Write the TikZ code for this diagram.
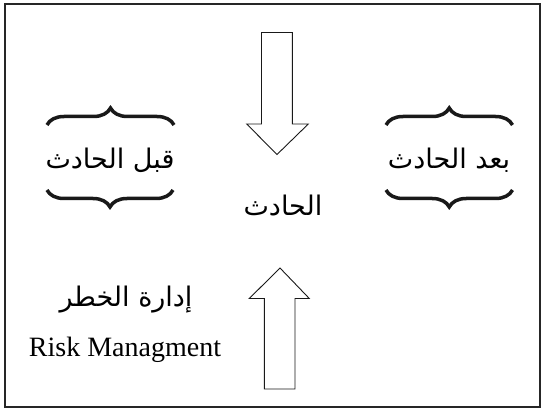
\documentclass[tikz,border=0pt]{standalone}
\usepackage{fontspec}
\setmainfont{Liberation Serif}
\newfontfamily\arabicfont[Script=Arabic]{DejaVu Sans}
\TeXXeTstate=1
\usetikzlibrary{decorations.pathreplacing}
\tikzset{
  frame/.style={draw=black!85, line width=2pt},
  blockarrow/.style={draw=black!90, line width=0.9pt, fill=white, line join=miter},
  bigbrace/.style={decorate, decoration={brace, amplitude=17pt, aspect=0.5}, line width=3.5pt, draw=black!90},
  artext/.style={inner sep=0pt, font=\fontsize{27}{32}\selectfont\arabicfont},
  entext/.style={inner sep=0pt, font=\fontsize{28}{33}\selectfont},
}
\begin{document}
\begin{tikzpicture}[x=1pt,y=1pt]
\useasboundingbox (0,0) rectangle (543,410);
\draw[frame] (5,3) rectangle (540,406);
% down arrow
\draw[blockarrow] (261.5,377.5) -- (292.3,377.5) -- (292.3,286) -- (308.3,286) -- (277,255.5) -- (246.7,286) -- (261.5,286) -- cycle;
% up arrow
\draw[blockarrow] (264.3,21) -- (295,21) -- (295,111.5) -- (309.3,111.5) -- (280,142) -- (249.3,111.5) -- (264.3,111.5) -- cycle;
% braces
\coordinate (tl1) at (47,285); \coordinate (tl2) at (174,285);
\coordinate (tr1) at (386,285); \coordinate (tr2) at (512.5,285);
\coordinate (bl1) at (47,220); \coordinate (bl2) at (173,220);
\coordinate (br1) at (386,220); \coordinate (br2) at (512.5,220);
\draw[bigbrace] (tl1) -- (tl2);
\draw[bigbrace] (tr1) -- (tr2);
\draw[bigbrace] (bl2) -- (bl1);
\draw[bigbrace] (br2) -- (br1);
% texts
\node[artext] (before) at (110,250) {\beginR قبل الحادث\endR};
\node[artext] (after) at (449,250) {\beginR بعد الحادث\endR};
\node[artext] (event) at (283,205) {\beginR الحادث\endR};
\node[artext] (riskar) at (126,110) {\beginR إدارة الخطر\endR};
\node[entext] (risken) at (125,60) {Risk Managment};
\end{tikzpicture}
\end{document}
